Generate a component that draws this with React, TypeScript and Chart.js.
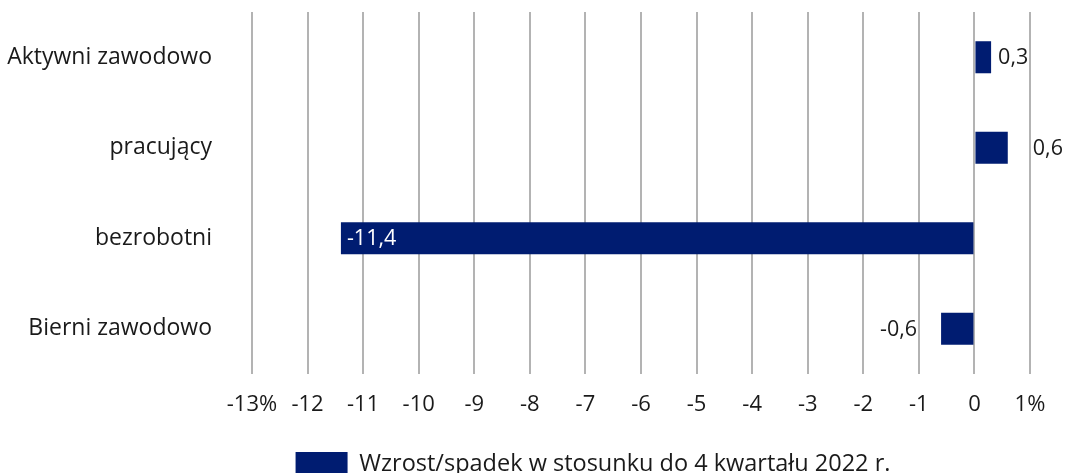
import React, { useEffect, useRef } from "react";
import { Chart, registerables } from "chart.js";

Chart.register(...registerables);

const categories = ["Aktywni zawodowo", "pracujący", "bezrobotni", "Bierni zawodowo"];
const values = [0.3, 0.6, -11.4, -0.6];
const valueLabels = ["0,3", "0,6", "-11,4", "-0,6"];
const labelOffsets = [7, 25, 6, -24];
const labelAligns: CanvasTextAlign[] = ["left", "left", "left", "right"];
const labelColors = ["#1a1a1a", "#1a1a1a", "#ffffff", "#1a1a1a"];
const seriesName = "Wzrost/spadek w stosunku do 4 kwartału 2022 r.";
const xMin = -13;
const xMax = 1;

const FONT = "'Open Sans', 'Noto Sans', sans-serif";
const NAVY = "#001c71";

const W = 1186;
const H = 486;
const PLOT_RIGHT = 1030;

const labelPlugin = {
  id: "valueLabels",
  afterDatasetsDraw(chart: any) {
    const meta = chart.getDatasetMeta(0);
    const ctx = chart.ctx;
    ctx.save();
    ctx.font = `21.5px ${FONT}`;
    ctx.textBaseline = "middle";
    meta.data.forEach((bar: any, i: number) => {
      ctx.fillStyle = labelColors[i];
      ctx.textAlign = labelAligns[i];
      ctx.fillText(valueLabels[i], bar.x + labelOffsets[i], bar.y + 1);
    });
    ctx.restore();
  },
};

export default function App() {
  const ref = useRef<HTMLCanvasElement | null>(null);
  useEffect(() => {
    document.body.style.margin = "0";
    if (!ref.current) return;
    const chart = new Chart(ref.current, {
      type: "bar",
      data: {
        labels: categories,
        datasets: [
          {
            label: seriesName,
            data: values,
            backgroundColor: NAVY,
            borderColor: NAVY,
            borderWidth: 0,
            barPercentage: 0.354,
            categoryPercentage: 1,
          },
        ],
      },
      options: {
        indexAxis: "y",
        responsive: false,
        animation: false,
        layout: { padding: { top: 12, right: 0, left: 0, bottom: 0 } },
        scales: {
          x: {
            min: xMin,
            max: xMax,
            border: { display: false },
            grid: { color: "#b3b3b3", lineWidth: 2, drawTicks: false },
            ticks: {
              stepSize: 1,
              padding: 18,
              autoSkip: false,
              maxRotation: 0,
              minRotation: 0,
              color: "#1a1a1a",
              font: { size: 22, family: FONT },
              callback: (v: any) => {
                const n = Number(v);
                return n === xMin || n === xMax ? `${n}%` : `${n}`;
              },
            },
            afterFit: (s: any) => {
              s.height = 68;
              s.paddingRight = W - PLOT_RIGHT;
            },
          },
          y: {
            border: { display: false },
            grid: { display: false, drawTicks: false },
            ticks: {
              padding: 40,
              color: "#1a1a1a",
              font: { size: 23, family: FONT },
            },
            afterFit: (s: any) => {
              s.width = 252;
              s.paddingTop = 0;
              s.paddingBottom = 0;
            },
          },
        },
        plugins: {
          tooltip: { enabled: false },
          legend: {
            position: "bottom",
            labels: {
              boxWidth: 52,
              boxHeight: 24,
              padding: 10,
              color: "#1a1a1a",
              font: { size: 23.5, family: FONT },
            },
          },
        },
      },
      plugins: [labelPlugin],
    });
    return () => chart.destroy();
  }, []);
  return (
    <div style={{ width: 1065, height: 473, overflow: "hidden", position: "relative" }}>
      <canvas ref={ref} width={W} height={H} style={{ position: "absolute", left: 0, top: 0 }} />
    </div>
  );
}
